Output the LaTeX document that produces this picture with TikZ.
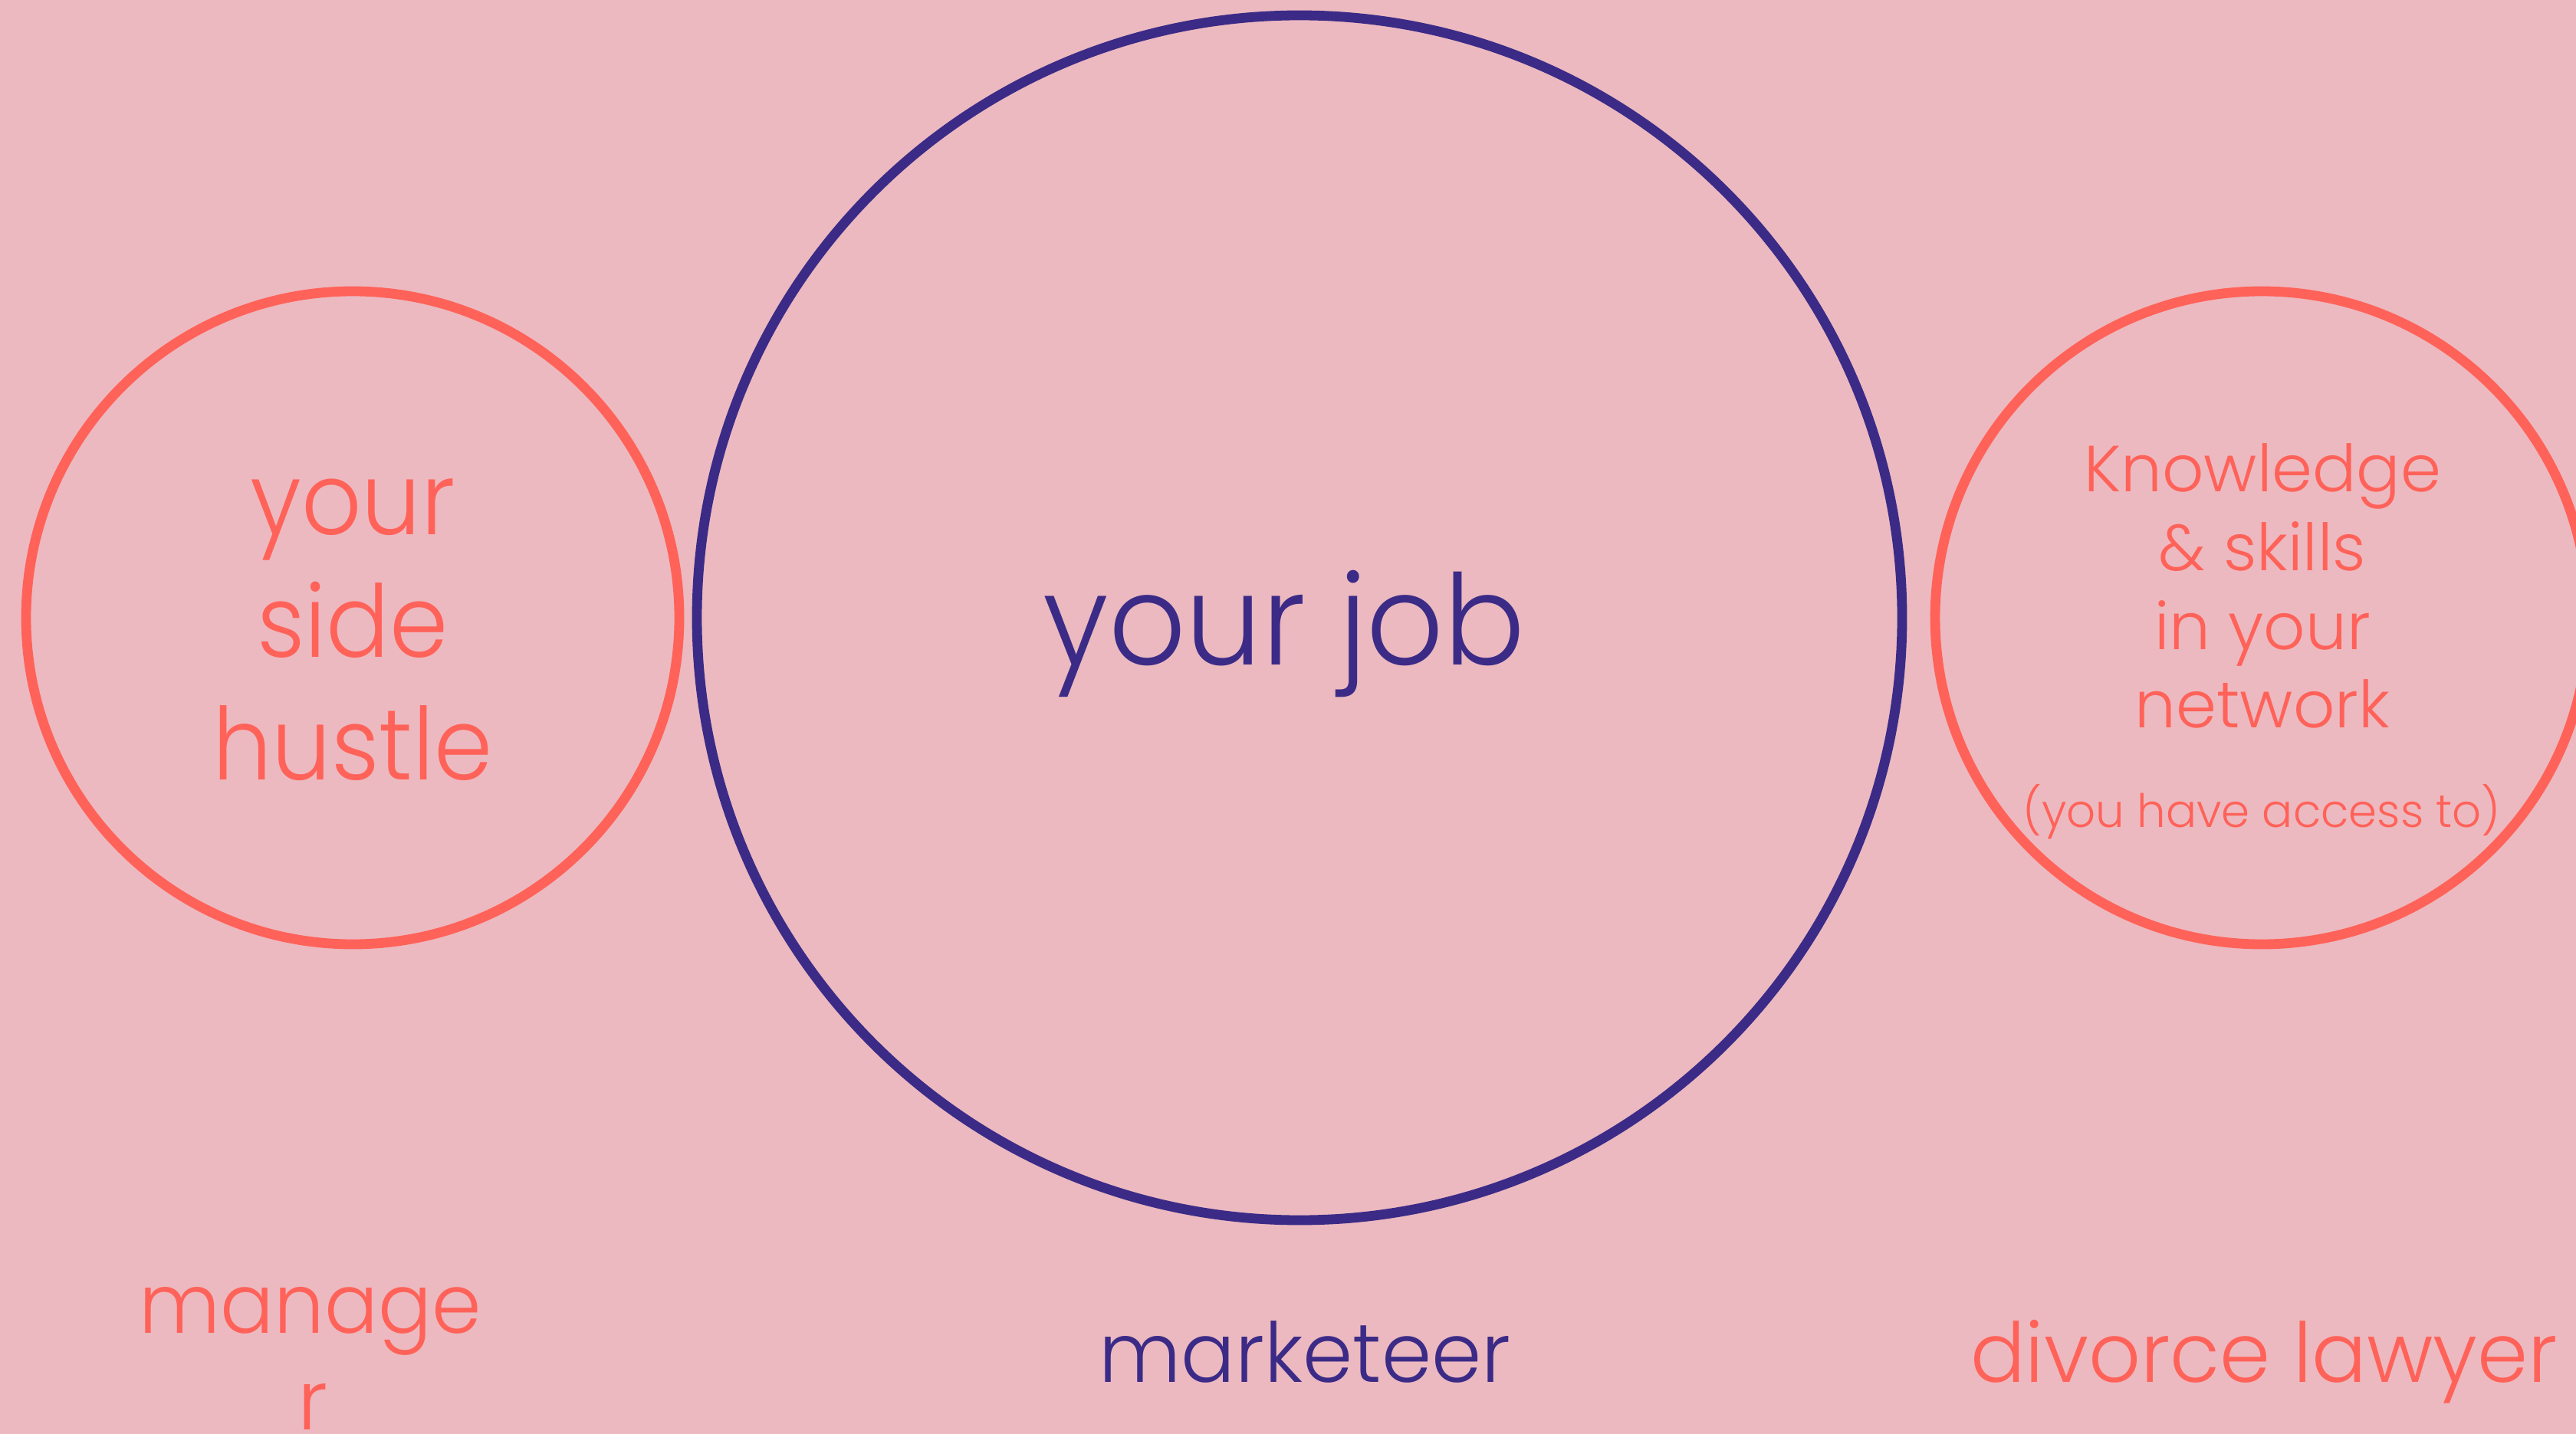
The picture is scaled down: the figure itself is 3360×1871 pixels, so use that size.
\documentclass[tikz,border=0pt]{standalone}
\usepackage{graphicx}
\usepackage{fontspec}
\setmainfont{Poppins Light}
\definecolor{bgpink}{HTML}{ECB9C0}
\definecolor{coral}{HTML}{FF6259}
\definecolor{jobpurple}{HTML}{3B2B87}
\newcommand{\squeeze}[2]{\scalebox{#1}[1]{#2}}
\begin{document}
\begin{tikzpicture}[x=0.25pt,y=-0.25pt,
  ring/.style={circle,draw,inner sep=0pt,line width=3.2pt},
  sidering/.style={ring,draw=coral,minimum size=213pt},
  jobring/.style={ring,draw=jobpurple,minimum size=393pt},
  word/.style={anchor=base,inner sep=0pt,font=#1},
  redword/.style={word=#1,text=coral},
  blueword/.style={word=#1,text=jobpurple}]
\useasboundingbox (0,0) rectangle (3360,1871);
\fill[bgpink] (0,0) rectangle (3360,1871);
\clip (0,0) rectangle (3360,1871);
% circles
\node[sidering] (hustle) at (460,806) {};
\node[jobring] (job) at (1695,806) {};
\node[sidering] (network) at (2950,806) {};
% side hustle text
\node[redword={\fontsize{32.75pt}{40pt}\selectfont}] (h1) at (460,697) {\squeeze{0.935}{your}};
\node[redword={\fontsize{32.75pt}{40pt}\selectfont}] (h2) at (460,857) {\squeeze{0.935}{side}};
\node[redword={\fontsize{32.75pt}{40pt}\selectfont}] (h3) at (460,1017) {\squeeze{0.935}{hustle}};
% job text
\node[blueword={\fontsize{41pt}{48pt}\selectfont}] (j1) at (1675,867) {\squeeze{0.957}{your job}};
% network text
\node[redword={\fontsize{21.25pt}{25pt}\selectfont}] (n1) at (2951,642) {Knowledge};
\node[redword={\fontsize{21.25pt}{25pt}\selectfont}] (n2) at (2951,744) {\& skills};
\node[redword={\fontsize{21.25pt}{25pt}\selectfont}] (n3) at (2951,847) {in your};
\node[redword={\fontsize{21.25pt}{25pt}\selectfont}] (n4) at (2951,949) {network};
\node[redword={\fontsize{15pt}{18pt}\selectfont}] (n5) at (2950,1079) {\squeeze{0.99}{(you have access to)}};
% bottom labels
\node[redword={\fontsize{27pt}{32pt}\selectfont}] (b1) at (405,1739) {\squeeze{0.96}{manage}};
\node[redword={\fontsize{27pt}{32pt}\selectfont}] (b2) at (408,1865) {r};
\node[blueword={\fontsize{27pt}{32pt}\selectfont}] (b3) at (1702,1803) {\squeeze{0.97}{marketeer}};
\node[redword={\fontsize{27pt}{32pt}\selectfont}] (b4) at (2953,1803) {\squeeze{0.983}{divorce lawyer}};
\end{tikzpicture}
\end{document}
